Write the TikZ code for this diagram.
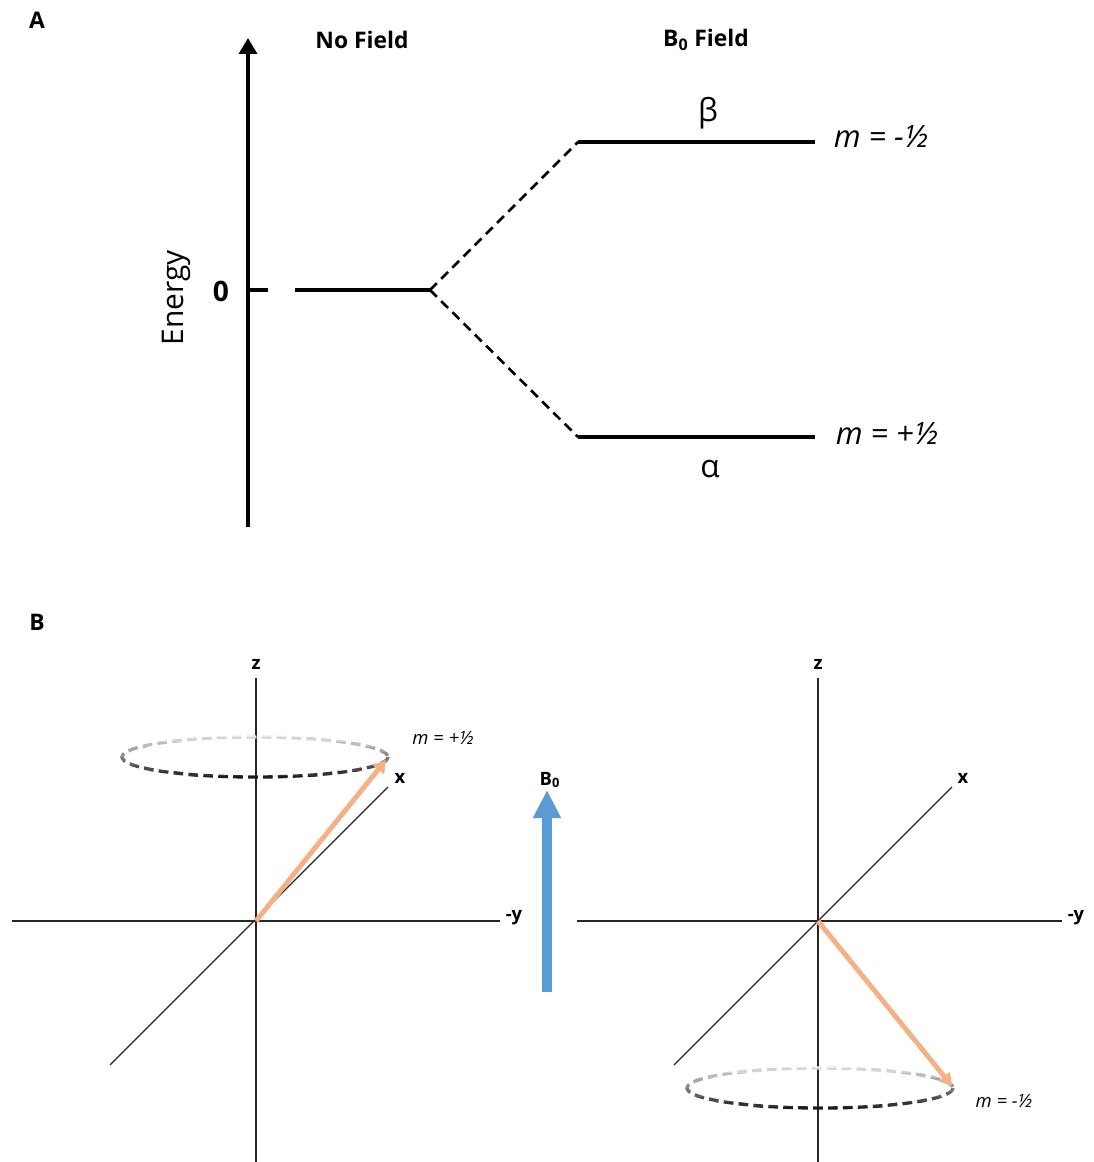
\documentclass[tikz,border=0pt]{standalone}
\usepackage{fontspec}
\setmainfont{Open Sans}
\usetikzlibrary{arrows.meta,positioning}
\definecolor{spinorange}{RGB}{244,177,131}
\definecolor{fieldblue}{RGB}{91,155,213}
\tikzset{
   panel label/.style={font=\fontsize{13}{15}\selectfont\bfseries},
   head label/.style={font=\fontsize{13}{15}\selectfont\bfseries},
   greek label/.style={font=\fontsize{18}{20}\selectfont},
   spin label/.style={font=\fontsize{17.5}{19}\selectfont\itshape},
   small spin label/.style={font=\fontsize{10.5}{12}\selectfont\itshape},
   axis label/.style={font=\fontsize{10.5}{12}\selectfont\bfseries},
   level/.style={line width=1.75pt},
   split/.style={line width=1.5pt, dash pattern=on 5.5pt off 3.5pt},
   axis line/.style={line width=0.7pt, black!85},
   ring/.style={line width=1.9pt, dash pattern=on 5.5pt off 3pt},
   spin/.style={line width=2.8pt, spinorange, -{Triangle[width=8pt,length=7pt]}},
   >=latex
}
% dashed ring, light at the back and dark at the front
\newcommand{\precessionring}[2]{%
  \foreach \b in {0,...,9}{
    \pgfmathsetmacro\ringgrey{8+9*\b}
    \begin{scope}
      \clip (#1-140,#2-24+\b*4.8) rectangle (#1+140,#2-19.2+\b*4.8);
      \draw[ring, black!\ringgrey] (#1,#2) ellipse[x radius=133, y radius=20];
    \end{scope}
  }}

\begin{document}
\begin{tikzpicture}[x=0.02cm, y=-0.02cm]
  \useasboundingbox (0,0) rectangle (1094,1162);

  % ---- A: energy levels
  \node[panel label] at (37,20)  (label a)  {A};
  \node[head label]  at (362,40) (no field) {No Field};
  \node[head label]  at (706,40) (b field)  {B\textsubscript{0} Field};

  \coordinate (energy low)  at (248,527);
  \coordinate (energy high) at (248,38);
  \draw[line width=2.3pt, -{Triangle[width=10pt,length=9pt]}] (energy low) -- (energy high);
  \node[rotate=90, font=\fontsize{17}{19}\selectfont] at (176,298) (energy) {Energy};
  \node[font=\fontsize{16}{18}\selectfont\bfseries] at (221,291) (zero) {0};

  \coordinate (tick)       at (268,290);
  \coordinate (zero start) at (295,290);
  \coordinate (zero end)   at (430,290);
  \coordinate (beta start) at (578,142);
  \coordinate (beta end)   at (815,142);
  \coordinate (alpha start) at (578,437);
  \coordinate (alpha end)   at (815,437);

  \draw[level] (energy low |- tick) -- (tick);
  \draw[level] (zero start) -- (zero end);
  \draw[level] (beta start) -- (beta end);
  \draw[level] (alpha start) -- (alpha end);
  \draw[split] (zero end) -- (beta start);
  \draw[split] (zero end) -- (alpha start);

  \node[greek label] at (708,113) (beta)  {β};
  \node[greek label] at (710,469) (alpha) {α};
  \node[spin label]  at (881,137) (m minus) {m = -½};
  \node[spin label]  at (887,434) (m plus)  {m = +½};

  % ---- B: spin vectors
  \node[panel label] at (37,622) (label b) {B};

  % left frame
  \coordinate (o left)   at (256,921);
  \coordinate (z1 top)   at (256,678);
  \coordinate (z1 bot)   at (256,1162);
  \coordinate (y1 left)  at (12,921);
  \coordinate (y1 right) at (500,921);
  \coordinate (x1 back)  at (110,1065);
  \coordinate (x1 front) at (388,787);
  \draw[axis line] (z1 top) -- (z1 bot);
  \draw[axis line] (y1 left) -- (y1 right);
  \draw[axis line] (x1 back) -- (x1 front);
  \node[axis label] at (256,664) (z1) {z};
  \node[axis label] at (514,918) (y1) {-y};
  \node[axis label] at (400,778) (x1) {x};

  \precessionring{255}{757}
  \coordinate (spin up) at (386,760);
  \draw[spin] (o left) -- (spin up);
  \node[small spin label] at (443,738) (up label) {m = +½};

  % field arrow
  \coordinate (field start) at (547,992);
  \coordinate (field end)   at (547,790);
  \draw[fieldblue, line width=5.6pt, -{Triangle[width=15pt,length=16pt]}] (field start) -- (field end);
  \node[axis label] at (550,780) (field) {B\textsubscript{0}};

  % right frame
  \coordinate (o right)  at (818,921);
  \coordinate (z2 top)   at (818,678);
  \coordinate (z2 bot)   at (818,1162);
  \coordinate (y2 left)  at (577,921);
  \coordinate (y2 right) at (1062,921);
  \coordinate (x2 back)  at (674,1065);
  \coordinate (x2 front) at (952,787);
  \draw[axis line] (z2 top) -- (z2 bot);
  \draw[axis line] (y2 left) -- (y2 right);
  \draw[axis line] (x2 back) -- (x2 front);
  \node[axis label] at (818,664) (z2) {z};
  \node[axis label] at (1076,918) (y2) {-y};
  \node[axis label] at (963,778) (x2) {x};

  \precessionring{820}{1088}
  \coordinate (spin down) at (952,1086);
  \draw[spin] (o right) -- (spin down);
  \node[small spin label] at (1004,1101) (down label) {m = -½};
\end{tikzpicture}
\end{document}
